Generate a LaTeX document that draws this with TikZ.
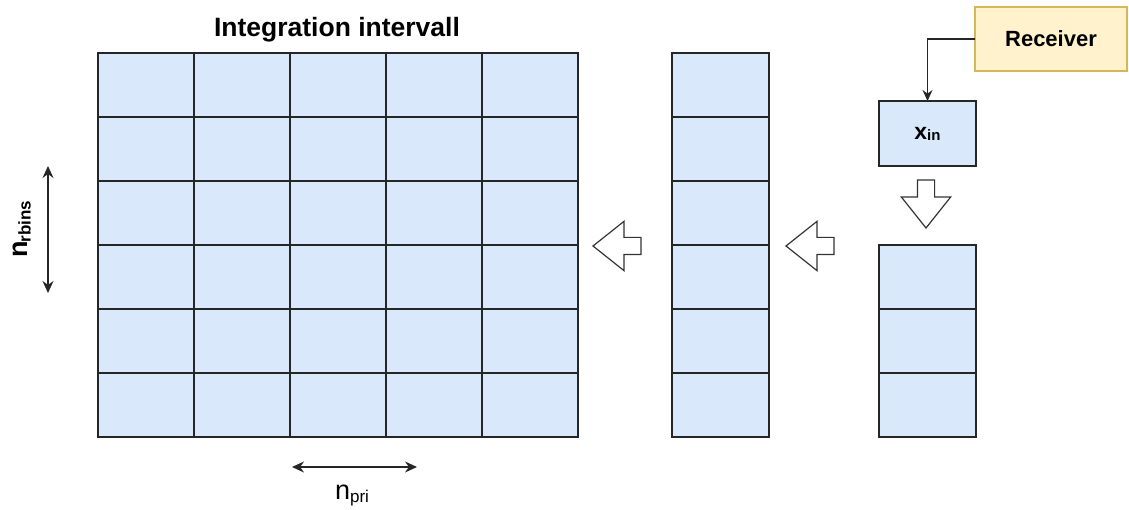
\documentclass[tikz,border=0pt]{standalone}
\usepackage{fontspec}
\setmainfont{Liberation Sans}
\usetikzlibrary{shapes.arrows,arrows.meta}
\definecolor{cellblue}{HTML}{DAE8FC}
\definecolor{recfill}{HTML}{FFF2CC}
\definecolor{recdraw}{HTML}{D6B656}
\tikzset{
  cell/.style={draw=black!85,fill=cellblue,line width=2pt,minimum width=96pt,minimum height=64pt,inner sep=0pt,outer sep=0pt,anchor=north west},
  hollow/.style={single arrow,draw=black!80,fill=white,line width=1.2pt,minimum height=48pt,inner sep=8pt,single arrow head extend=16pt,single arrow tip angle=77,outer sep=0pt,anchor=tip},
  dim/.style={{Stealth[length=12pt,width=11pt]}-{Stealth[length=12pt,width=11pt]},line width=1.3pt,black!85},
}
\begin{document}
\begin{tikzpicture}[x=1pt,y=-1pt]
\useasboundingbox (0,0) rectangle (1129,510);
% main grid
\foreach \r in {0,...,5}{
  \foreach \c in {0,...,4}{
    \node[cell] (g-\r-\c) at ({98+\c*96},{53+\r*64}) {};
  }
}
% middle column
\foreach \r in {0,...,5}{
  \node[cell,minimum width=97pt] (m-\r) at (672,{53+\r*64}) {};
}
% right column
\foreach \r in {0,...,2}{
  \node[cell,minimum width=97pt] (s-\r) at (879,{245+\r*64}) {};
}
% x_in
\node[cell,minimum width=97pt,minimum height=65pt] (xin) at (879,101) {};
\node[font=\bfseries\fontsize{23}{26}\selectfont] (xlab) at (xin.center) {x\raisebox{-1pt}{\fontsize{15}{17}\selectfont in}};
% receiver
\node[draw=recdraw,fill=recfill,line width=2pt,minimum width=152pt,minimum height=64pt,anchor=north west,inner sep=0pt,outer sep=0pt,font=\bfseries\fontsize{22}{25}\selectfont] (rec) at (975,7) {Receiver};
\draw[line width=1.3pt,black!85,-{Stealth[length=11pt,width=10pt]}] (rec.west) -| (xin.north);
% title
\node[font=\bfseries\fontsize{26.5}{30}\selectfont] (title) at (337,30) {Integration intervall};
% hollow arrows
\node[hollow,shape border rotate=270] (a1) at (926,228) {};
\node[hollow,shape border rotate=180] (a2) at (593,246) {};
\node[hollow,shape border rotate=180] (a3) at (786,246) {};
% dimension arrows
\coordinate (v1) at (48,166);
\coordinate (v2) at (48,293);
\draw[dim] (v1) -- (v2);
\node[rotate=90,font=\bfseries\fontsize{27}{30}\selectfont] (nr) at (22,229) {n\kern-2pt\raisebox{-3pt}{\fontsize{17}{19}\selectfont rbins}};
\coordinate (h1) at (292,467);
\coordinate (h2) at (417,467);
\draw[dim] (h1) -- (h2);
\node[font=\fontsize{27}{30}\selectfont] (np) at (352,495) {n\raisebox{-3pt}{\fontsize{17}{19}\selectfont pri}};
\end{tikzpicture}
\end{document}
